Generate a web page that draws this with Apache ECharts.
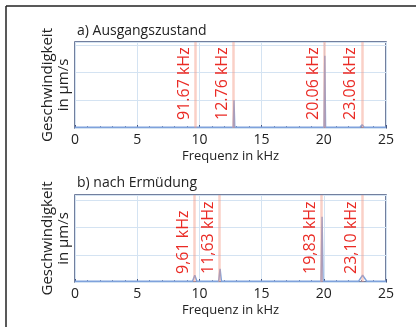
<!DOCTYPE html>
<html>
<head>
<meta charset="utf-8">
<script src="https://cdn.jsdelivr.net/npm/echarts@6/dist/echarts.min.js"></script>
<style>
  html, body { margin: 0; padding: 0; background: #fff; }
  #chart { width: 416px; height: 327px; }
</style>
</head>
<body>
<div id="chart"></div>
<script>
// Panel titles
var panelTitles = ['a) Ausgangszustand', 'b) nach Ermüdung'];

// Spectrum of panel a (kHz, velocity)
var spectrumA = [
  [0, 0.03], [9.6, 0.03], [9.67, 0.08], [9.74, 0.03],
  [12.72, 0.03], [12.78, 1.0], [12.84, 0.03],
  [20.02, 0.03], [20.08, 2.6], [20.14, 0.03],
  [22.9, 0.03], [23.08, 0.12], [23.25, 0.03], [25, 0.03]
];
// Spectrum of panel b
var spectrumB = [
  [0, 0.03], [9.45, 0.03], [9.63, 0.25], [9.8, 0.03],
  [11.55, 0.03], [11.66, 0.48], [11.77, 0.03],
  [19.78, 0.03], [19.86, 2.4], [19.94, 0.03],
  [22.8, 0.03], [23.12, 0.25], [23.45, 0.03], [25, 0.03]
];

// marked peaks
var peaksA = [9.67, 12.76, 20.06, 23.06];
var peakLabelsA = ['91.67 kHz', '12.76 kHz', '20.06 kHz', '23.06 kHz'];
var peaksB = [9.61, 11.63, 19.83, 23.10];
var peakLabelsB = ['9,61 kHz', '11,63 kHz', '19,83 kHz', '23,10 kHz'];

var xTicks = [0, 5, 10, 15, 20, 25];
var yMaxA = 3.1, yMaxB = 3.2;

var FONT = 'Open Sans';
var chart = echarts.init(document.getElementById('chart'));

function markLines(peaks, labels) {
  return {
    silent: true,
    symbol: 'none',
    lineStyle: { color: 'rgba(244,150,130,0.45)', width: 2.5, type: 'solid' },
    label: {
      show: true,
      position: 'insideStartTop',
      color: '#ea2b25',
      fontFamily: FONT,
      fontSize: 16,
      distance: [8, 3]
    },
    data: peaks.map(function (p, i) {
      return { xAxis: p, label: { formatter: labels[i] } };
    })
  };
}

function xAxisOf(gi) {
  return {
    type: 'value', gridIndex: gi, min: xTicks[0], max: xTicks[xTicks.length - 1], interval: 5,
    axisLine: { show: false },
    axisTick: { show: true, inside: true, length: 3, lineStyle: { color: '#44557f' } },
    minorTick: { show: true, splitNumber: 5, length: 2, lineStyle: { color: '#6a7aa0' } },
    splitLine: { show: true, lineStyle: { color: '#d4e3f2', width: 1 } },
    axisLabel: { color: '#222', fontFamily: FONT, fontSize: 14, margin: 5 },
    name: 'Frequenz in kHz', nameLocation: 'middle', nameGap: 22,
    nameTextStyle: { color: '#222', fontFamily: FONT, fontSize: 13 }
  };
}

function yAxisOf(gi, max) {
  return {
    type: 'value', gridIndex: gi, min: 0, max: max, interval: 1,
    axisLine: { show: false },
    axisTick: { show: false },
    axisLabel: { show: false },
    splitLine: { show: true, lineStyle: { color: '#d4e3f2', width: 1 } },
    name: 'Geschwindigkeit\nin µm/s', nameLocation: 'middle', nameGap: 3, nameRotate: 90,
    nameTextStyle: { color: '#222', fontFamily: FONT, fontSize: 15, lineHeight: 16 }
  };
}

var option = {
  backgroundColor: '#ffffff',
  animation: false,
  title: [
    { text: panelTitles[0], left: 72, top: 19, textStyle: { color: '#222', fontFamily: FONT, fontSize: 14, fontWeight: 'normal' } },
    { text: panelTitles[1], left: 72, top: 171, textStyle: { color: '#222', fontFamily: FONT, fontSize: 14, fontWeight: 'normal' } }
  ],
  graphic: [
    { type: 'line', shape: { x1: 6, y1: 6, x2: 416, y2: 6 }, style: { stroke: '#222', lineWidth: 1.5 } },
    { type: 'line', shape: { x1: 6, y1: 6, x2: 6, y2: 327 }, style: { stroke: '#222', lineWidth: 1.5 } }
  ],
  grid: [
    { left: 75, top: 42, width: 311, height: 86, show: true, borderColor: '#44557f', borderWidth: 1.5, backgroundColor: '#fff' },
    { left: 75, top: 195, width: 311, height: 87, show: true, borderColor: '#44557f', borderWidth: 1.5, backgroundColor: '#fff' }
  ],
  xAxis: [xAxisOf(0), xAxisOf(1)],
  yAxis: [yAxisOf(0, yMaxA), yAxisOf(1, yMaxB)],
  series: [
    {
      type: 'line', xAxisIndex: 0, yAxisIndex: 0, data: spectrumA, symbol: 'none', z: 3,
      lineStyle: { color: '#7fa2dc', width: 1.5 },
      markLine: markLines(peaksA, peakLabelsA)
    },
    {
      type: 'line', xAxisIndex: 1, yAxisIndex: 1, data: spectrumB, symbol: 'none', z: 3,
      lineStyle: { color: '#7fa2dc', width: 1.5 },
      markLine: markLines(peaksB, peakLabelsB)
    }
  ]
};
chart.setOption(option);
</script>
</body>
</html>
